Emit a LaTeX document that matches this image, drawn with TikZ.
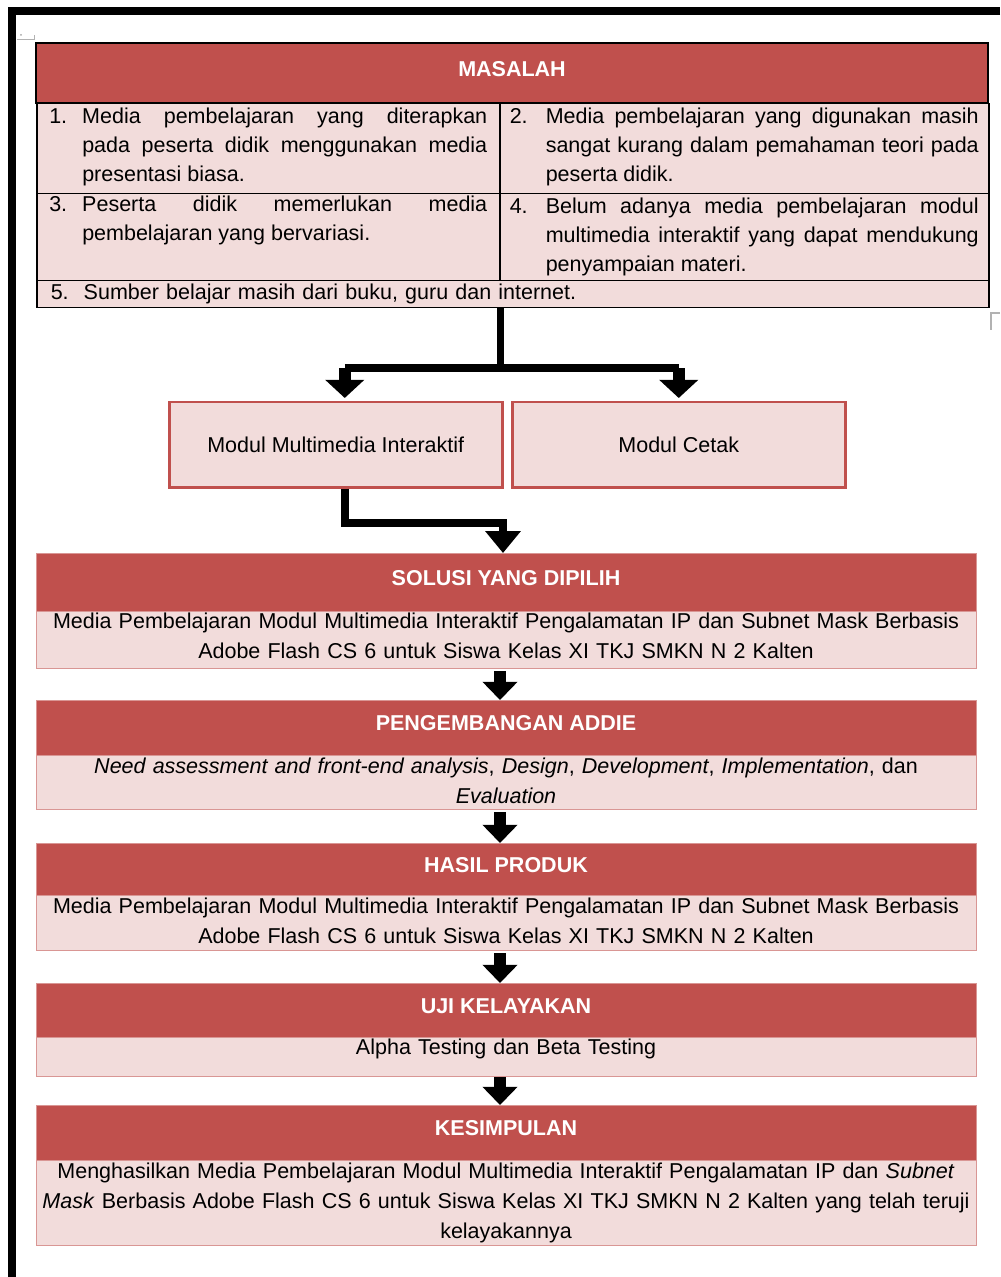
\documentclass[tikz,border=0pt]{standalone}
\usepackage{fontspec}
\setmainfont{Liberation Sans}
\usetikzlibrary{arrows.meta,positioning}
\newlength{\px}
\setlength{\px}{0.017cm}
\definecolor{merah}{HTML}{C0504D}
\definecolor{muda}{HTML}{F2DCDB}
\definecolor{garismerah}{HTML}{D99694}
\newcommand{\butir}[3]{\noindent\hangindent=#1\hangafter=1\makebox[#1][l]{#2}#3\par}
\newcommand{\sisa}[1]{\par\nointerlineskip\kern#1\hbox{}}
\tikzset{
  judul/.style={fill=merah, draw=garismerah, line width=1\px, minimum width=940\px,
                text=white, font=\fontsize{10.4}{14}\selectfont\bfseries,
                text height=7.5pt, text depth=4.5pt, inner sep=0pt, outer sep=0pt},
  isi/.style={fill=muda, draw=garismerah, line width=1\px, minimum width=940\px,
              text width=930\px, align=center, inner xsep=2\px, inner ysep=1\px,
              outer sep=0pt, font=\fontsize{10.4}{14.5}\selectfont},
  sel/.style={fill=muda, draw=black, line width=1.5\px, anchor=north west, align=justify,
              inner xsep=0pt, inner ysep=0pt, font=\fontsize{10.4}{14}\selectfont},
  modul/.style={fill=muda, draw=merah, line width=2.5\px, minimum width=333\px,
                minimum height=85\px, font=\fontsize{10.4}{14}\selectfont},
  garis/.style={line width=8\px, line join=miter},
  panah/.style={line width=12\px, -{Triangle[width=0.58cm, length=0.31cm]}}
}
\begin{document}
\begin{tikzpicture}[x=0.017cm, y=-0.017cm, node distance=32\px]
  \useasboundingbox (0,0) rectangle (1000,1277);
  % page frame and corner marks
  \draw[line width=8\px] (1000,11) -- (11.5,11) -- (11.5,1277);
  \draw[gray!60, line width=1\px] (17,40) -- (34,40) -- (34,35);
  \fill[gray!70] (21,35) circle (1\px);
  \draw[gray!60, line width=1.5\px] (1000,313) -- (991,313) -- (991,330);

  % tabel masalah
  \node[sel, minimum width=463\px, minimum height=90\px, text width=438\px] (c1) at (36,103)
    {\butir{33\px}{1.}{Media pembelajaran yang diterapkan\linebreak pada peserta didik menggunakan media\linebreak presentasi biasa.}\sisa{4\px}};
  \node[sel, minimum width=489\px, minimum height=90\px, text width=469\px] (c2) at (499,103)
    {\butir{36\px}{2.}{Media pembelajaran yang digunakan masih\linebreak sangat kurang dalam pemahaman teori pada\linebreak peserta didik.}\sisa{4\px}};
  \node[sel, minimum width=463\px, minimum height=87\px, text width=438\px] (c3) at (36,193)
    {\butir{33\px}{3.}{Peserta didik memerlukan media\linebreak pembelajaran yang bervariasi.}\noindent\strut};
  \node[sel, minimum width=489\px, minimum height=87\px, text width=469\px] (c4) at (499,193)
    {\butir{36\px}{4.}{Belum adanya media pembelajaran modul\linebreak multimedia interaktif yang dapat mendukung\linebreak penyampaian materi.}};
  \node[sel, minimum width=952\px, minimum height=27\px, text width=924\px, align=left] (c5) at (36,280)
    {\butir{33\px}{5.}{Sumber belajar masih dari buku, guru dan internet.}};
  \node[judul, draw=black, line width=1.5\px, minimum width=952\px, minimum height=60\px,
        anchor=north west] (masalah) at (36,43) {MASALAH};

  % pilihan modul
  \node[modul, anchor=north west] (mmi) at (168,401) {Modul Multimedia Interaktif};
  \node[modul, anchor=north west] (cetak) at (511,401) {Modul Cetak};

  % alur utama
  \node[judul, minimum height=58\px, anchor=north west] (sol) at (36,553) {SOLUSI YANG DIPILIH};
  \node[isi, minimum height=57\px, below=0pt of sol] (sol-isi)
    {Media Pembelajaran Modul Multimedia Interaktif Pengalamatan IP dan Subnet Mask Berbasis\\
     Adobe Flash CS 6 untuk Siswa Kelas XI TKJ SMKN N 2 Kalten\sisa{8\px}};
  \node[judul, minimum height=55\px, below=of sol-isi] (pgb) {PENGEMBANGAN ADDIE};
  \node[isi, minimum height=54\px, below=0pt of pgb] (pgb-isi)
    {\textit{Need assessment and front-end analysis}, \textit{Design}, \textit{Development}, \textit{Implementation}, dan\\
     \textit{Evaluation}\sisa{2\px}};
  \node[judul, minimum height=52\px, below=34\px of pgb-isi] (has) {HASIL PRODUK};
  \node[isi, minimum height=55\px, below=0pt of has] (has-isi)
    {Media Pembelajaran Modul Multimedia Interaktif Pengalamatan IP dan Subnet Mask Berbasis\\
     Adobe Flash CS 6 untuk Siswa Kelas XI TKJ SMKN N 2 Kalten\sisa{4\px}};
  \node[judul, minimum height=54\px, below=33\px of has-isi] (uji) {UJI KELAYAKAN};
  \node[isi, minimum height=39\px, text height=7.5pt, text depth=9.2pt, below=0pt of uji] (uji-isi)
    {Alpha Testing dan Beta Testing};
  \node[judul, minimum height=55\px, below=29\px of uji-isi] (kes) {KESIMPULAN};
  \node[isi, minimum height=85\px, below=0pt of kes] (kes-isi)
    {Menghasilkan Media Pembelajaran Modul Multimedia Interaktif Pengalamatan IP dan \textit{Subnet}\\
     \textit{Mask} Berbasis Adobe Flash CS 6 untuk Siswa Kelas XI TKJ SMKN N 2 Kalten yang telah teruji\\
     kelayakannya};

  % panah
  \coordinate (cabang) at ([yshift=-60\px]c3.east |- c5.south);
  \draw[line width=7\px] (c3.east |- c5.south) -- (cabang);
  \draw[garis] ([xshift=9\px]mmi.north |- cabang) -- (cetak.north |- cabang);
  \draw[panah, -{Triangle[width=0.65cm, length=0.31cm]}, shorten >=3\px] ([xshift=9\px]mmi.north |- cabang) -- ([xshift=9\px]mmi.north);
  \draw[panah, -{Triangle[width=0.65cm, length=0.31cm]}, shorten >=3\px] (cetak.north |- cabang) -- (cetak.north);
  \draw[garis, -{Triangle[width=0.58cm, length=0.37cm]}] ([xshift=9\px]mmi.south) -- ++(0,34) -| ([xshift=-3\px]sol.north);
  \draw[panah, shorten <=3\px] ([xshift=-6\px]sol-isi.south) -- ([xshift=-6\px]pgb.north);
  \draw[panah, shorten <=3\px] ([xshift=-6\px]pgb-isi.south) -- ([xshift=-6\px]has.north);
  \draw[panah, shorten <=3\px] ([xshift=-6\px]has-isi.south) -- ([xshift=-6\px]uji.north);
  \draw[panah, shorten <=1\px] ([xshift=-6\px]uji-isi.south) -- ([xshift=-6\px]kes.north);
\end{tikzpicture}
\end{document}
